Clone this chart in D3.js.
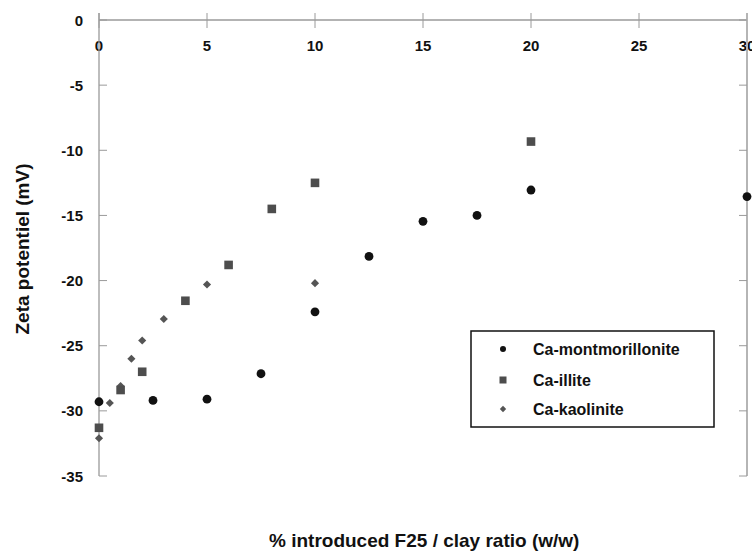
<!DOCTYPE html>
<html>
<head>
<meta charset="utf-8">
<script src="https://cdn.jsdelivr.net/npm/d3@7"></script>
<style>
  body { margin: 0; background: #fff; }
  svg text { font-family: "Liberation Sans", Arial, sans-serif; font-weight: bold; }
</style>
</head>
<body>
<div id="chart"></div>
<script>
// data
var montX = [0, 2.5, 5, 7.5, 10, 12.5, 15, 17.5, 20, 30];
var montY = [-29.3, -29.2, -29.1, -27.15, -22.4, -18.15, -15.45, -15.0, -13.05, -13.55];
var illiteX = [0, 1, 2, 4, 6, 8, 10, 20];
var illiteY = [-31.3, -28.4, -27.0, -21.55, -18.8, -14.5, -12.5, -9.33];
var kaolX = [0, 0.5, 1, 1.5, 2, 3, 5, 10];
var kaolY = [-32.1, -29.4, -28.1, -26.0, -24.6, -22.95, -20.3, -20.2];
var xTicks = [0, 5, 10, 15, 20, 25, 30];
var yTicks = [0, -5, -10, -15, -20, -25, -30, -35];
var seriesNames = ["Ca-montmorillonite", "Ca-illite", "Ca-kaolinite"];

var width = 752, height = 551;
var svg = d3.select("#chart").append("svg")
    .attr("width", width)
    .attr("height", height);

var xScale = d3.scaleLinear().domain([0, 30]).range([99, 747]);
var yScale = d3.scaleLinear().domain([0, -35]).range([20, 476]);

var axisColor = "#9a9a9a";

// top x axis (value 0 line) with ticks crossing it
svg.append("line")
    .attr("x1", xScale(0)).attr("x2", xScale(30))
    .attr("y1", yScale(0)).attr("y2", yScale(0))
    .style("stroke", axisColor).style("stroke-width", 1.3);
svg.selectAll(".xtick")
    .data(xTicks).enter().append("line")
    .attr("x1", function(d) { return xScale(d); })
    .attr("x2", function(d) { return xScale(d); })
    .attr("y1", 13).attr("y2", 28)
    .style("stroke", axisColor).style("stroke-width", 1);
svg.selectAll(".xlab")
    .data(xTicks).enter().append("text")
    .attr("x", function(d) { return xScale(d); })
    .attr("y", 50.5)
    .attr("text-anchor", "middle")
    .style("font-size", "15px")
    .style("fill", "#111")
    .text(function(d) { return d; });

// left y axis
svg.append("line")
    .attr("x1", xScale(0)).attr("x2", xScale(0))
    .attr("y1", 13).attr("y2", yScale(-35))
    .style("stroke", axisColor).style("stroke-width", 1.3);
svg.selectAll(".ytick")
    .data(yTicks).enter().append("line")
    .attr("x1", xScale(0)).attr("x2", xScale(0) + 8)
    .attr("y1", function(d) { return yScale(d); })
    .attr("y2", function(d) { return yScale(d); })
    .style("stroke", axisColor).style("stroke-width", 1);
svg.selectAll(".ylab")
    .data(yTicks).enter().append("text")
    .attr("x", 83)
    .attr("y", function(d) { return yScale(d) + 5.5; })
    .attr("text-anchor", "end")
    .style("font-size", "15px")
    .style("fill", "#111")
    .text(function(d) { return d; });

// right y axis
svg.append("line")
    .attr("x1", xScale(30)).attr("x2", xScale(30))
    .attr("y1", 13).attr("y2", yScale(-35))
    .style("stroke", "#b5b5b5").style("stroke-width", 2);
svg.selectAll(".rtick")
    .data(yTicks).enter().append("line")
    .attr("x1", xScale(30) - 8).attr("x2", xScale(30))
    .attr("y1", function(d) { return yScale(d); })
    .attr("y2", function(d) { return yScale(d); })
    .style("stroke", axisColor).style("stroke-width", 1);

// axis titles
svg.append("text")
    .attr("transform", "translate(29,249) rotate(-90)")
    .attr("text-anchor", "middle")
    .style("font-size", "19px")
    .style("fill", "#111")
    .text("Zeta potentiel (mV)");
svg.append("text")
    .attr("x", 269).attr("y", 547)
    .attr("text-anchor", "start")
    .style("font-size", "19px")
    .style("fill", "#111")
    .text("% introduced F25 / clay ratio (w/w)");

function zip(xs, ys) {
    return xs.map(function(x, i) { return {x: x, y: ys[i]}; });
}

// kaolinite diamonds
svg.selectAll(".kaol")
    .data(zip(kaolX, kaolY)).enter().append("path")
    .attr("class", "kaol")
    .attr("d", d3.symbol().type(d3.symbolDiamond2).size(42))
    .attr("transform", function(d) { return "translate(" + xScale(d.x) + "," + yScale(d.y) + ")"; })
    .style("fill", "#555");

// illite squares
svg.selectAll(".illite")
    .data(zip(illiteX, illiteY)).enter().append("rect")
    .attr("class", "illite")
    .attr("x", function(d) { return xScale(d.x) - 4.3; })
    .attr("y", function(d) { return yScale(d.y) - 4.3; })
    .attr("width", 8.6).attr("height", 8.6)
    .style("fill", "#4d4d4d");

// montmorillonite circles
svg.selectAll(".mont")
    .data(zip(montX, montY)).enter().append("circle")
    .attr("class", "mont")
    .attr("cx", function(d) { return xScale(d.x); })
    .attr("cy", function(d) { return yScale(d.y); })
    .attr("r", 4.4)
    .style("fill", "#111");

// legend
var legend = svg.append("g");
legend.append("rect")
    .attr("x", 471).attr("y", 331)
    .attr("width", 243).attr("height", 96)
    .style("fill", "#fff")
    .style("stroke", "#111").style("stroke-width", 1.5);
var rowY = [349, 380, 409];
legend.append("circle")
    .attr("cx", 503).attr("cy", rowY[0]).attr("r", 3)
    .style("fill", "#111");
legend.append("rect")
    .attr("x", 499.5).attr("y", rowY[1] - 3.5)
    .attr("width", 7).attr("height", 7)
    .style("fill", "#4d4d4d");
legend.append("path")
    .attr("d", d3.symbol().type(d3.symbolDiamond2).size(26))
    .attr("transform", "translate(503," + rowY[2] + ")")
    .style("fill", "#555");
legend.selectAll(".ltext")
    .data(seriesNames).enter().append("text")
    .attr("x", 533)
    .attr("y", function(d, i) { return rowY[i] + 6; })
    .style("font-size", "16px")
    .style("fill", "#111")
    .text(function(d) { return d; });
</script>
</body>
</html>
